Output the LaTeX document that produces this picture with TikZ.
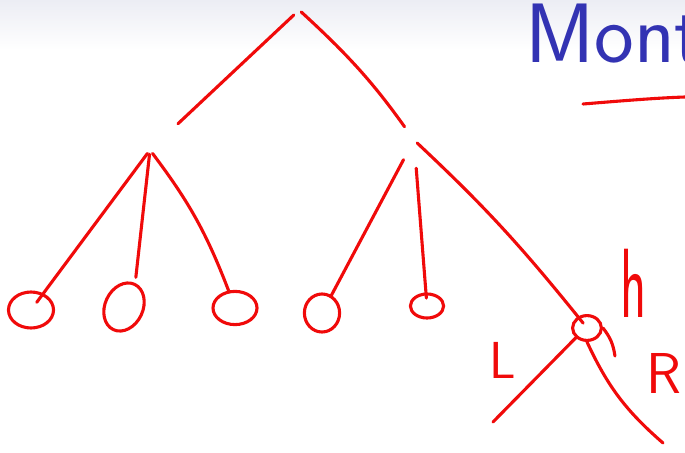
\documentclass[tikz,border=0pt]{standalone}
\usepackage{tikz}
\usetikzlibrary{positioning,shapes.geometric}
\definecolor{ink600}  {HTML}{F00A0A}
\definecolor{blue700} {HTML}{3333B3}
\definecolor{grey100} {HTML}{ECEDF4}
\tikzset{
  pen/.style  ={draw=ink600, line width=2.2pt, line cap=round,
                line join=round},
  leaf/.style ={ellipse, draw=ink600, line width=2.2pt, inner sep=0pt},
  joint/.style={circle, inner sep=0pt, minimum size=2mm},
  hand/.style ={text=ink600, inner sep=0pt},
  title/.style={text=blue700, font=\sffamily\fontsize{60}{60}\selectfont,
                inner sep=0pt, anchor=base west}
}

\begin{document}
\begin{tikzpicture}[x=0.025cm, y=-0.025cm]
\useasboundingbox (0,0) rectangle (685,453);
\fill[white] (0,0) rectangle (685,453);
\shade[top color=grey100, bottom color=white] (0,0) rectangle (685,50);
\node[title] (head) at (525,63) {Mont};
\draw[pen] (583,104) .. controls (620,101) and (655,98) .. (685,97);

% inner nodes
\node[joint] (root) at (297,12) {};
\node[joint] (ln) at (150,150) {};
\node[joint] (rn) at (414,140) {};
% leaves
\node[leaf, minimum width=1.125cm, minimum height=0.9cm] (a1) at (31,310) {};
\node[leaf, minimum width=1.25cm, minimum height=0.95cm, rotate=65] (a2) at (124,307) {};
\node[leaf, minimum width=1.1cm, minimum height=0.83cm] (a3) at (235,308) {};
\node[leaf, minimum width=0.88cm, minimum height=0.95cm] (a4) at (322,313) {};
\node[leaf, minimum width=0.83cm, minimum height=0.6cm] (a5) at (427,306) {};
\node[leaf, minimum width=0.72cm, minimum height=0.62cm] (a6) at (587,328) {};
\coordinate (lend) at (493,422);
\coordinate (rend) at (663,443);

% edges
\draw[pen, shorten >=0.85cm] (root) -- (ln);
\draw[pen, shorten >=0.3cm] (root.east) to[bend left=6] (rn);
\draw[pen, shorten >=-8pt] (ln) -- (a1);
\draw[pen, shorten >=4pt] (ln) -- (a2.east);
\draw[pen] (ln) to[bend left=8] (a3);
\draw[pen, shorten <=0.45cm] (rn) -- (a4);
\draw[pen, shorten <=0.6cm, shorten >=-4pt] (rn) -- (a5);
\draw[pen, shorten >=-6pt] (rn) to[bend left=4] (a6);
\draw[pen] (a6.south west) -- (lend);
\draw[pen] (a6.south) to[bend right=12] (rend);
\draw[pen] (a6.east) to[bend left=15] ++(12,28);

% labels
\node[hand, font=\sffamily\fontsize{37}{37}\selectfont] (lbl) at (503,360) {L};
\node[hand, font=\sffamily\fontsize{41}{41}\selectfont] (lbr) at (664,373) {R};
\node[hand, font=\sffamily\fontsize{70}{70}\selectfont, xscale=0.55] (lbh) at (634,283) {h};
\end{tikzpicture}
\end{document}
